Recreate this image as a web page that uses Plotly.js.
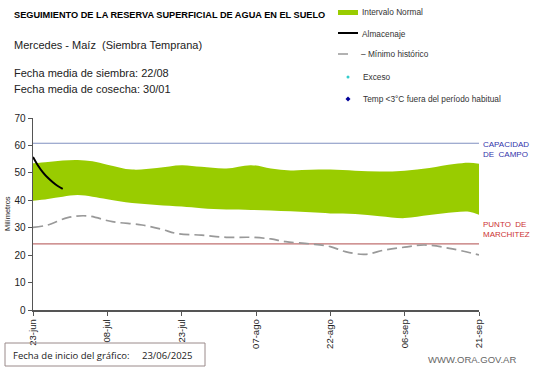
<!DOCTYPE html>
<html><head><meta charset="utf-8">
<script src="https://cdn.plot.ly/plotly-3.0.1.min.js"></script>
<style>html,body{margin:0;padding:0;background:#fff}#c{width:541px;height:368px}</style>
</head><body><div id="c"></div>
<script>
// ---- data ----
const bandDays   = [0,3,6,9,12,15,20,25,30,34,39,44,48,52,56,60,65,70,75,80,85,88,90];
const bandTop    = [53.5,54.0,54.5,54.7,54.2,53.0,51.2,51.8,52.8,52.2,51.6,52.8,51.6,50.9,51.1,51.2,50.8,50.5,50.8,51.8,53.2,53.7,53.3];
const bandBottom = [39.8,40.5,41.3,41.9,41.3,40.4,39.0,38.3,37.7,37.1,36.6,36.5,36.3,36.0,35.6,35.2,35.0,34.2,33.5,34.6,35.6,35.8,34.7];
const minDays    = [0,3,7,11,16,22,26,29,34,39,44,48,51,56,60,63,67,71,75,79,84,90];
const minHist    = [30.1,31.0,33.7,34.3,32.2,31.0,29.4,27.9,27.3,26.5,26.5,25.9,24.9,24.1,23.1,21.3,20.3,21.9,22.9,23.7,22.5,20.1];
const storDays   = [0,1,2,3,4,5,6];
const storage    = [55.8,52.7,50.2,48.2,46.6,45.2,44.2];
const fieldCapacity = 60.8;
const wiltingPoint  = 24.1;
const tickDays   = [0,15,30,45,60,75,90];
const tickLabels = ['23-jun','08-jul','23-jul','07-ago','22-ago','06-sep','21-sep'];
const yTicks     = [0,10,20,30,40,50,60,70];

// ---- geometry helpers (pixel -> paper) ----
const L=33,R=479,T=118,B=310;
const px = x => (x-L)/(R-L);
const py = y => (B-y)/(B-T);

const traces = [
  {x:bandDays,y:bandBottom,mode:'lines',line:{width:0,color:'#99cc00',shape:'spline'},hoverinfo:'skip',showlegend:false},
  {x:bandDays,y:bandTop,mode:'lines',line:{width:0,color:'#99cc00',shape:'spline'},fill:'tonexty',fillcolor:'#99cc00',hoverinfo:'skip',showlegend:false},
  {x:[tickDays[0],tickDays[tickDays.length-1]],y:[fieldCapacity,fieldCapacity],mode:'lines',line:{width:1.2,color:'#8090c0'},showlegend:false},
  {x:[tickDays[0],tickDays[tickDays.length-1]],y:[wiltingPoint,wiltingPoint],mode:'lines',line:{width:1.2,color:'#c07070'},showlegend:false},
  {x:minDays,y:minHist,mode:'lines',line:{width:1.7,color:'#999999',dash:'10px,5px',shape:'spline'},showlegend:false},
  {x:storDays,y:storage,mode:'lines',line:{width:2,color:'#000000',shape:'spline'},showlegend:false}
];

const F='Liberation Sans, Arial, sans-serif';
const ann = (x,y,text,opts={}) => Object.assign({xref:'paper',yref:'paper',x:px(x),y:py(y),text:text,showarrow:false,xanchor:'left',yanchor:'middle',font:{family:F,size:9,color:'#333'}},opts);

const annotations = [
  ann(12,15,'<b>SEGUIMIENTO DE LA RESERVA SUPERFICIAL DE AGUA EN EL SUELO</b>',{font:{family:F,size:9.2,color:'#000'}}),
  ann(12,45,'Mercedes - Maíz  (Siembra Temprana)',{font:{family:F,size:11,color:'#222'}}),
  ann(12,73,'Fecha media de siembra: 22/08',{font:{family:F,size:11,color:'#222'}}),
  ann(12,89,'Fecha media de cosecha: 30/01',{font:{family:F,size:11,color:'#222'}}),
  ann(360,12,'Intervalo Normal',{font:{family:F,size:8.3,color:'#333'}}),
  ann(360,34,'Almacenaje',{font:{family:F,size:8.3,color:'#333'}}),
  ann(359,54,'– Mínimo histórico',{font:{family:F,size:8.3,color:'#333'}}),
  ann(361,77,'Exceso',{font:{family:F,size:8.3,color:'#333'}}),
  ann(361,99,'Temp <3°C fuera del período habitual',{font:{family:F,size:8.3,color:'#333'}}),
  ann(481,149,'CAPACIDAD<br>DE  CAMPO',{font:{family:F,size:8,color:'#3333aa'},align:'left'}),
  ann(481,229,'PUNTO  DE<br>MARCHITEZ',{font:{family:F,size:8,color:'#cc3333'},align:'left'}),
  ann(7,214,'Milímetros',{textangle:-90,xanchor:'center',font:{family:F,size:7.5,color:'#222'}}),
  ann(11,355,'Fecha de inicio del gráfico:',{font:{family:'Open Sans, sans-serif',size:9.5,color:'#222'}}),
  ann(140,355,'23/06/2025',{font:{family:'Open Sans, sans-serif',size:9.5,color:'#222'}}),
  ann(426,359,'WWW.ORA.GOV.AR',{font:{family:F,size:9.5,color:'#666'}})
];

const shapes = [
  {type:'rect',xref:'paper',yref:'paper',x0:px(338),x1:px(358),y0:py(10),y1:py(15),fillcolor:'#99cc00',line:{width:0}},
  {type:'line',xref:'paper',yref:'paper',x0:px(338),x1:px(358),y0:py(33),y1:py(33),line:{color:'#000',width:2}},
  {type:'line',xref:'paper',yref:'paper',x0:px(338),x1:px(348),y0:py(54),y1:py(54),line:{color:'#999',width:1.5}},
  {type:'circle',xref:'paper',yref:'paper',x0:px(346.5),x1:px(349.5),y0:py(75.5),y1:py(78.5),fillcolor:'#33cccc',line:{width:0}},
  {type:'path',xref:'paper',yref:'paper',path:`M ${px(348)} ${py(96.5)} L ${px(350.5)} ${py(99)} L ${px(348)} ${py(101.5)} L ${px(345.5)} ${py(99)} Z`,fillcolor:'#000099',line:{width:0}},
  {type:'rect',xref:'paper',yref:'paper',x0:px(5),x1:px(205),y0:py(343),y1:py(366),fillcolor:'rgba(0,0,0,0)',line:{color:'#9a8a8a',width:1}}
];

const layout = {
  width:541,height:368,
  margin:{l:L,r:541-R,t:T,b:368-B,pad:0},
  paper_bgcolor:'#fff',plot_bgcolor:'#fff',
  showlegend:false,
  xaxis:{range:[0,90],tickvals:tickDays,ticktext:tickLabels,tickangle:-90,showgrid:false,zeroline:false,
    showline:true,linecolor:'#555',linewidth:1.5,ticks:'outside',ticklen:4,tickcolor:'#555',
    tickfont:{family:F,size:9.5,color:'#222'},fixedrange:true},
  yaxis:{range:[0,70],tickvals:yTicks,showgrid:false,zeroline:false,showline:true,linecolor:'#555',linewidth:1.5,
    ticks:'outside',ticklen:4,tickcolor:'#555',tickfont:{family:F,size:10,color:'#222'},fixedrange:true},
  annotations:annotations,shapes:shapes
};
Plotly.newPlot('c',traces,layout,{staticPlot:true,displayModeBar:false});
</script></body></html>
